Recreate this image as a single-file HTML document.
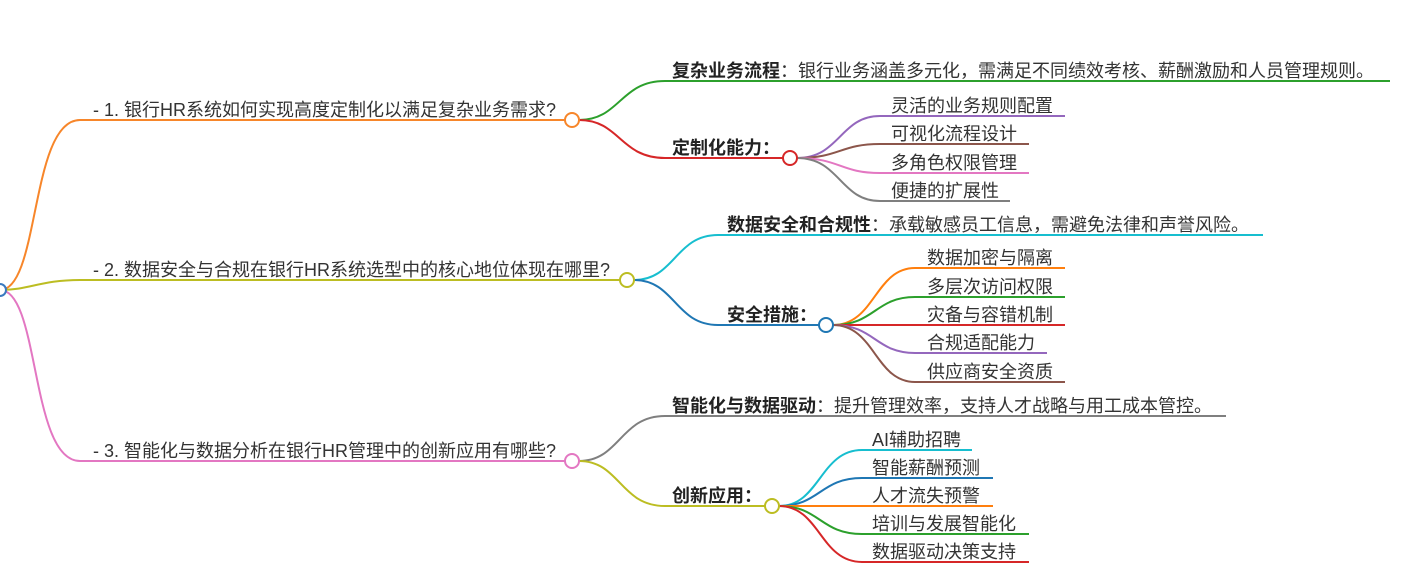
<!DOCTYPE html>
<html><head><meta charset="utf-8"><style>
html,body{margin:0;padding:0;background:#fff;}
svg{display:block;}
text{font-family:"Liberation Sans","Noto Sans CJK SC",sans-serif;font-size:18px;fill:#333;}
.b{font-weight:bold;fill:#222;}
path{fill:none;stroke-width:2;}
circle{fill:#fff;stroke-width:2;}
</style></head><body>
<svg width="1401" height="579" viewBox="0 0 1401 579" xmlns="http://www.w3.org/2000/svg">
<path d="M0 290 C40 290 30 120 80 120 L565 120" stroke="#f7862a"/>
<path d="M0 290 C30 290 40 280 80 280 L620 280" stroke="#bcbd22"/>
<path d="M0 290 C40 290 30 461 80 461 L565 461" stroke="#e377c2"/>
<circle cx="0" cy="290" r="6" stroke="#3a7abf"/>
<text x="93" y="116">- 1. 银行HR系统如何实现高度定制化以满足复杂业务需求?</text>
<text x="93" y="276">- 2. 数据安全与合规在银行HR系统选型中的核心地位体现在哪里?</text>
<text x="93" y="457">- 3. 智能化与数据分析在银行HR管理中的创新应用有哪些?</text>

<path d="M579 120 C620 120 620 81 665 81 L1390 81" stroke="#2ca02c"/>
<path d="M579 120 C620 120 620 158 665 158 L783 158" stroke="#d62728"/>
<circle cx="572" cy="120" r="7" stroke="#f7862a"/>
<text x="672" y="77"><tspan class="b">复杂业务流程</tspan>：银行业务涵盖多元化，需满足不同绩效考核、薪酬激励和人员管理规则。</text>
<text x="672" y="154" class="b">定制化能力：</text>
<path d="M797 158 C840 158 840 116 880 116 L1065 116" stroke="#9467bd"/>
<path d="M797 158 C840 158 840 144 880 144 L1029 144" stroke="#8c564b"/>
<path d="M797 158 C840 158 840 173 880 173 L1029 173" stroke="#e377c2"/>
<path d="M797 158 C840 158 840 201 880 201 L1010 201" stroke="#7f7f7f"/>
<circle cx="790" cy="158" r="7" stroke="#d62728"/>
<text x="891" y="112">灵活的业务规则配置</text>
<text x="891" y="140">可视化流程设计</text>
<text x="891" y="169">多角色权限管理</text>
<text x="891" y="197">便捷的扩展性</text>

<path d="M634 280 C675 280 675 235 718 235 L1263 235" stroke="#17becf"/>
<path d="M634 280 C675 280 675 325 718 325 L819 325" stroke="#1f77b4"/>
<circle cx="627" cy="280" r="7" stroke="#bcbd22"/>
<text x="727" y="231"><tspan class="b">数据安全和合规性</tspan>：承载敏感员工信息，需避免法律和声誉风险。</text>
<text x="727" y="321" class="b">安全措施：</text>
<path d="M833 325 C875 325 875 268 915 268 L1065 268" stroke="#ff7f0e"/>
<path d="M833 325 C875 325 875 297 915 297 L1065 297" stroke="#2ca02c"/>
<path d="M833 325 L1065 325" stroke="#d62728"/>
<path d="M833 325 C875 325 875 353 915 353 L1047 353" stroke="#9467bd"/>
<path d="M833 325 C875 325 875 382 915 382 L1065 382" stroke="#8c564b"/>
<circle cx="826" cy="325" r="7" stroke="#1f77b4"/>
<text x="927" y="264">数据加密与隔离</text>
<text x="927" y="293">多层次访问权限</text>
<text x="927" y="321">灾备与容错机制</text>
<text x="927" y="349">合规适配能力</text>
<text x="927" y="378">供应商安全资质</text>

<path d="M579 461 C620 461 620 416 665 416 L1226 416" stroke="#7f7f7f"/>
<path d="M579 461 C620 461 620 506 665 506 L765 506" stroke="#bcbd22"/>
<circle cx="572" cy="461" r="7" stroke="#e377c2"/>
<text x="672" y="412"><tspan class="b">智能化与数据驱动</tspan>：提升管理效率，支持人才战略与用工成本管控。</text>
<text x="672" y="502" class="b">创新应用：</text>
<path d="M779 506 C820 506 820 450 862 450 L972 450" stroke="#17becf"/>
<path d="M779 506 C820 506 820 478 862 478 L993 478" stroke="#1f77b4"/>
<path d="M779 506 L993 506" stroke="#ff7f0e"/>
<path d="M779 506 C820 506 820 534 862 534 L1029 534" stroke="#2ca02c"/>
<path d="M779 506 C820 506 820 562 862 562 L1029 562" stroke="#d62728"/>
<circle cx="772" cy="506" r="7" stroke="#bcbd22"/>
<text x="872" y="446">AI辅助招聘</text>
<text x="872" y="474">智能薪酬预测</text>
<text x="872" y="502">人才流失预警</text>
<text x="872" y="530">培训与发展智能化</text>
<text x="872" y="558">数据驱动决策支持</text>
</svg>
</body></html>
